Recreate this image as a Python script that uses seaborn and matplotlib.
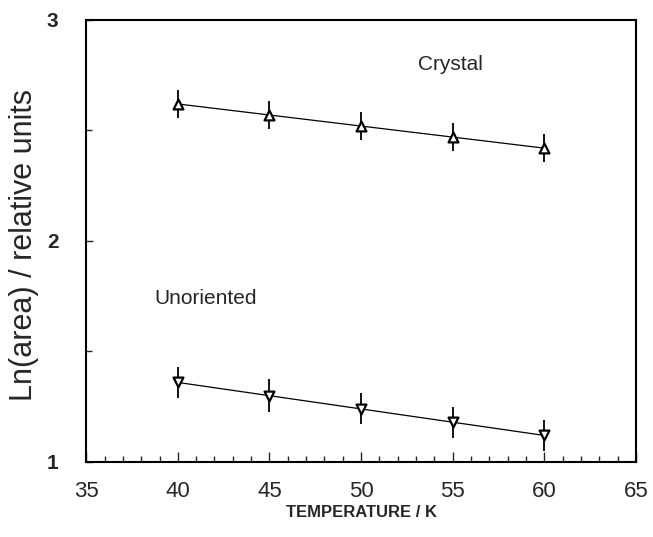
import numpy as np
import pandas as pd
import matplotlib
matplotlib.use("Agg")
import matplotlib.pyplot as plt
import seaborn as sns
from matplotlib.ticker import MultipleLocator

# Data
temperature = [40, 45, 50, 55, 60]
crystal = [2.62, 2.57, 2.52, 2.47, 2.42]
crystal_err = [0.063, 0.063, 0.063, 0.063, 0.063]
unoriented = [1.36, 1.30, 1.24, 1.18, 1.12]
unoriented_err = [0.07, 0.075, 0.07, 0.07, 0.07]
x_ticks = [35, 40, 45, 50, 55, 60, 65]
y_ticks = [1, 2, 3]

sns.set_theme(style="white")
plt.rcParams['font.family'] = ['Liberation Sans', 'DejaVu Sans']

fig = plt.figure(figsize=(6.53, 5.37), dpi=100)
ax = fig.add_axes([0.132, 0.1397, 0.842, 0.8231])

df_c = pd.DataFrame({"T": temperature, "v": crystal})
df_u = pd.DataFrame({"T": temperature, "v": unoriented})

for df, err, mk in [(df_c, crystal_err, "^"), (df_u, unoriented_err, "v")]:
    sns.lineplot(data=df, x="T", y="v", ax=ax, color="black", lw=0.9,
                 marker=None, legend=False)
    ax.errorbar(df["T"], df["v"], yerr=err, fmt="none", ecolor="black",
                elinewidth=1.3, capsize=0, zorder=3)
    sns.scatterplot(data=df, x="T", y="v", ax=ax, marker=mk, s=50,
                    facecolor="white", edgecolor="black", linewidth=1.6,
                    zorder=4, legend=False)

ax.set_xlim(35, 65)
ax.set_ylim(1, 3)
ax.set_xticks(x_ticks)
ax.set_yticks(y_ticks)
ax.xaxis.set_minor_locator(MultipleLocator(1))
ax.yaxis.set_minor_locator(MultipleLocator(0.5))
ax.tick_params(axis="x", which="major", direction="in", length=7, width=1,
               bottom=True, top=False, labelsize=16, pad=14)
ax.tick_params(axis="x", which="minor", direction="in", length=4, width=1,
               bottom=True, top=False)
ax.tick_params(axis="y", which="major", direction="in", length=5, width=1,
               left=True, right=False, labelsize=15, pad=20)
ax.tick_params(axis="y", which="minor", direction="in", length=4, width=1,
               left=True, right=False)
for lbl in ax.get_yticklabels():
    lbl.set_fontweight("bold")

for s in ax.spines.values():
    s.set_color("black")
    s.set_linewidth(1.5)

ax.set_xlabel("TEMPERATURE / K", fontsize=12, fontweight="bold", labelpad=2)
ax.set_ylabel("Ln(area) / relative units", fontsize=22)
ax.yaxis.set_label_coords(-0.085, 0.49)

ax.text(54.9, 2.80, "Crystal", fontsize=15, ha="center", va="center")
ax.text(41.5, 1.74, "Unoriented", fontsize=15, ha="center", va="center")

fig.savefig("out.png", dpi=100)
